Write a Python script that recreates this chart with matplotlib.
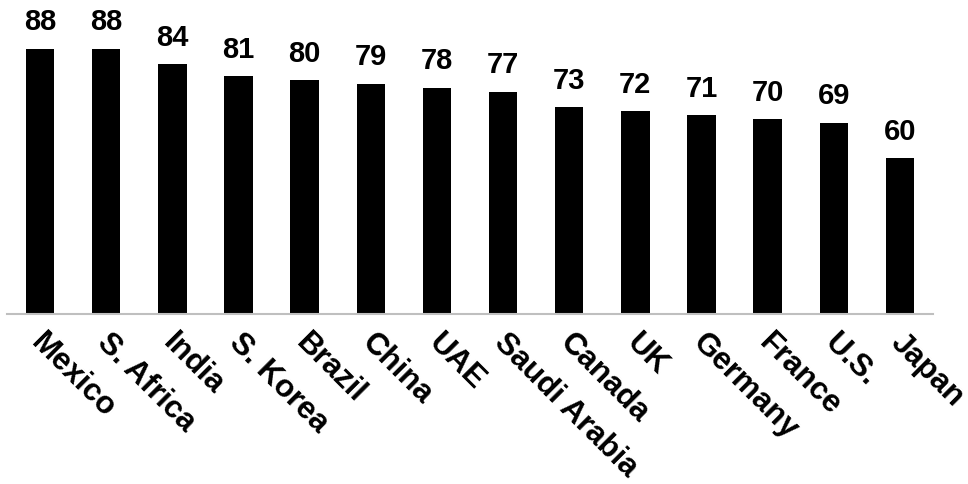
import matplotlib
matplotlib.use("Agg")
import matplotlib.pyplot as plt
import matplotlib.transforms as mtransforms

countries = ["Mexico", "S. Africa", "India", "S. Korea", "Brazil", "China", "UAE",
             "Saudi Arabia", "Canada", "UK", "Germany", "France", "U.S.", "Japan"]
values = [88, 88, 84, 81, 80, 79, 78, 77, 73, 72, 71, 70, 69, 60]

plt.rcParams["font.family"] = ["Liberation Sans", "DejaVu Sans"]
plt.rcParams["font.weight"] = "bold"

W, H = 968, 484
fig = plt.figure(figsize=(W / 100, H / 100), dpi=100)
ax = fig.add_axes([7 / W, 170 / H, 926 / W, 312 / H])

x = list(range(len(countries)))
ax.bar(x, values, width=0.43, color="black", bottom=0)
ax.set_xlim(-0.5, len(countries) - 0.5)
ax.set_ylim(20, 100)

for xi, v in zip(x, values):
    ax.annotate(str(v), (xi, v), xytext=(0, 9), textcoords="offset points",
                ha="center", va="bottom", fontsize=21, fontweight="bold")

for s in ["top", "right", "left"]:
    ax.spines[s].set_visible(False)
ax.spines["bottom"].set_color("#bfbfbf")
ax.spines["bottom"].set_linewidth(1.5)
ax.set_yticks([])
ax.set_xticks(x)
ax.set_xticklabels(countries, rotation=-45, ha="left", va="top",
                   rotation_mode="anchor", fontsize=22.5, fontweight="bold")
ax.tick_params(axis="x", length=0, pad=10)
offset = mtransforms.ScaledTranslation(6 / 100, 0, fig.dpi_scale_trans)
for lbl in ax.get_xticklabels():
    lbl.set_transform(lbl.get_transform() + offset)

fig.savefig("out.png", dpi=100)
